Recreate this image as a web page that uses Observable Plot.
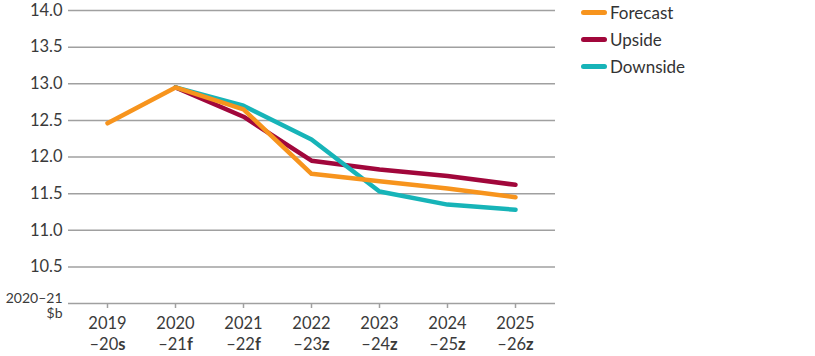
<!DOCTYPE html>
<html><head><meta charset="utf-8">
<script src="https://cdn.jsdelivr.net/npm/d3@7"></script>
<script src="https://cdn.jsdelivr.net/npm/@observablehq/plot@0.6"></script>
<style>
body{margin:0;background:#fff;font-family:Lato,sans-serif;}
#wrap{position:relative;width:815px;height:356px;}
#legend{position:absolute;left:581px;top:-1px;font-family:Lato,sans-serif;font-size:17px;color:#333;}
#legend .row{display:flex;align-items:center;height:27px;}
#legend .sw{width:26px;height:5px;border-radius:3px;margin-right:3px;}
</style></head><body><div id="wrap"><div id="legend"></div></div>
<script>
const years = ["2019","2020","2021","2022","2023","2024","2025"];
const yearEnds = ["–20","–21","–22","–23","–24","–25","–26"];
const flags = ["s","f","f","z","z","z","z"];
const forecast = [12.46,12.95,12.65,11.77,11.67,11.57,11.45];
const upside = [null,12.95,12.55,11.95,11.83,11.74,11.62];
const downside = [null,12.95,12.70,12.24,11.53,11.35,11.28];
const seriesNames = ["Forecast","Upside","Downside"];
const seriesColors = ["#f7941d","#a1073b","#17b4b8"];
const yTicks = [10,10.5,11,11.5,12,12.5,13,13.5,14];
const yUnitLabel = "2020–21\n$b";

const seriesValues = {Forecast: forecast, Upside: upside, Downside: downside};
const drawOrder = ["Upside","Downside","Forecast"];
const data = [];
for (const s of drawOrder) {
  seriesValues[s].forEach((v,i) => { if (v != null) data.push({year: years[i], value: v, series: s}); });
}

const chart = Plot.plot({
  width: 815, height: 356,
  marginLeft: 68, marginRight: 260, marginTop: 10, marginBottom: 53,
  style: {fontFamily: "Lato, sans-serif", color: "#3a3a3a", background: "#fff"},
  x: {type: "point", domain: years, range: [68, 553], padding: 0.55},
  y: {domain: [10, 14]},
  color: {domain: seriesNames, range: seriesColors},
  marks: [
    Plot.ruleY(yTicks, {stroke: "#a0a0a0", strokeWidth: 1.5}),
    Plot.axisY(yTicks.filter(d => d !== 10), {tickSize: 0, tickPadding: 6, fontSize: 16.5, tickFormat: d => d.toFixed(1), label: null}),
    Plot.axisY([10], {tickSize: 0, tickPadding: 6, fontSize: 14, dy: 2, tickFormat: () => yUnitLabel, label: null, lineHeight: 1.12}),
    Plot.axisX({tickSize: 5, tickPadding: 5, fontSize: 16.5, lineHeight: 1.28, stroke: "#a0a0a0", strokeWidth: 1.5,
      tickFormat: (d) => { const i = years.indexOf(d); return d + "\n" + yearEnds[i] + flags[i]; }, label: null}),
    Plot.line(data, {x: "year", y: "value", z: "series", stroke: "series", strokeWidth: 4.5, strokeLinejoin: "round"})
  ]
});
document.getElementById("wrap").prepend(chart);

// bold the suffix letter of each x tick label
d3.select(chart).selectAll('g[aria-label="x-axis tick label"] text').each(function() {
  const tspans = d3.select(this).selectAll("tspan").nodes();
  if (tspans.length < 2) return;
  const t = tspans[1];
  const txt = t.textContent;
  const main = txt.slice(0, -1), flag = txt.slice(-1);
  t.textContent = main;
  d3.select(t).append("tspan").attr("font-weight", 700).text(flag);
});

const legend = d3.select("#legend");
seriesNames.forEach((n,i) => {
  const r = legend.append("div").attr("class","row");
  r.append("div").attr("class","sw").style("background", seriesColors[i]);
  r.append("span").text(n);
});
</script></body></html>
